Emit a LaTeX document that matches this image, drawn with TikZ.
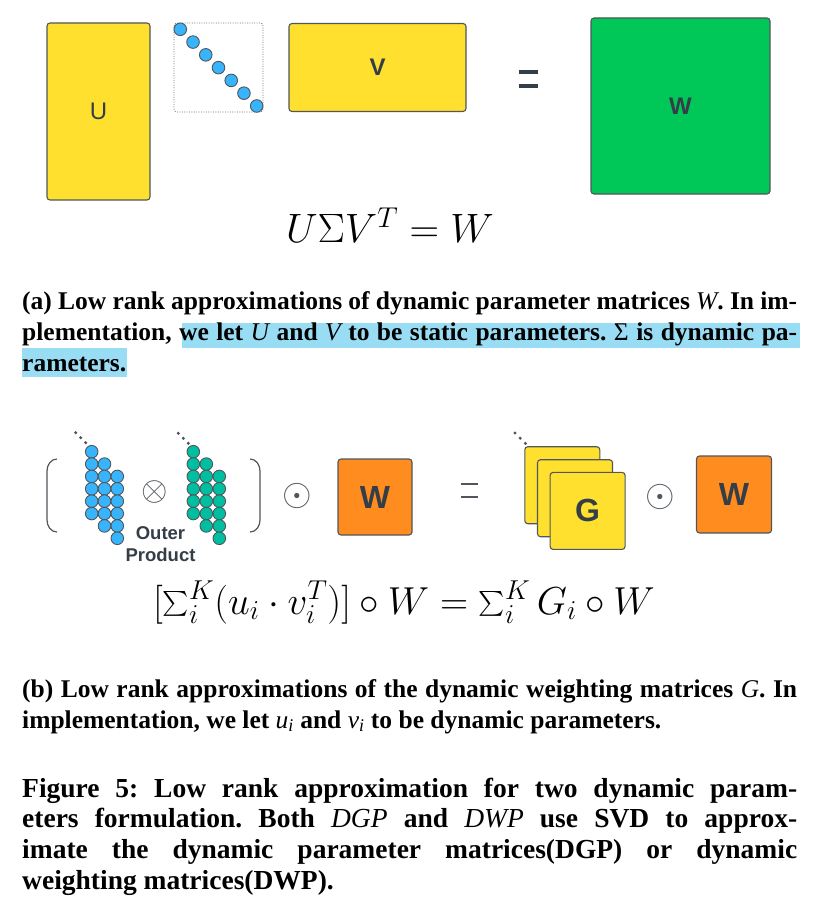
\documentclass[tikz,border=0pt]{standalone}
\usepackage{fix-cm}
\usepackage{amsmath}
\usepackage{fontspec}
\setmainfont{Liberation Serif}
\newfontfamily\labelfont{Liberation Sans}
\usepackage{tikz}
\usetikzlibrary{positioning, backgrounds}
\definecolor{colYel}{RGB}{255,224,46}
\definecolor{colGrn}{RGB}{0,200,88}
\definecolor{colOrg}{RGB}{255,140,30}
\definecolor{colBlue}{RGB}{56,180,252}
\definecolor{colTeal}{RGB}{0,190,160}
\definecolor{colEdge}{RGB}{80,86,92}
\definecolor{colText}{RGB}{52,62,72}
\definecolor{colMark}{RGB}{153,221,245}
\newcommand{\capvar}[1]{{\mdseries\itshape #1}}
\frenchspacing

\begin{document}
\begin{tikzpicture}[
  x=1pt, y=-1pt,
  mat/.style={rectangle, draw=colEdge, rounded corners=3pt, line width=1.1pt,
              inner sep=0pt, text=colText},
  ylw/.style={mat, fill=colYel},
  bdot/.style={circle, draw=colEdge, fill=colBlue, line width=0.9pt,
               minimum size=12.6pt, inner sep=0pt},
  gdot/.style={bdot, fill=colTeal},
  edot/.style={circle, fill=colEdge, minimum size=3.4pt, inner sep=0pt},
  opr/.style={inner sep=0pt, text=colEdge},
  capsub/.style={anchor=base west, inner sep=0pt, text width=775pt, align=justify,
                 font=\fontsize{25.5}{31}\selectfont\bfseries},
  capfig/.style={capsub, font=\fontsize{27.5}{30.7}\selectfont\bfseries},
]
\useasboundingbox (0,0) rectangle (812,904);

\node[ylw, minimum width=103pt, minimum height=177pt,
      font=\labelfont\fontsize{24}{24}\selectfont] (U) at (98.5,111.5) {U};
\node[mat, draw=colEdge!80, dash pattern=on 1pt off 1.4pt, line width=0.8pt,
      minimum width=89pt, minimum height=89pt] (S) at (218.5,67.5) {};
\foreach \k in {0,...,6}
  \node[bdot] (s\k) at ({180.3+12.73*\k},{29.3+12.78*\k}) {};
\node[ylw, minimum width=177pt, minimum height=88pt,
      font=\labelfont\bfseries\fontsize{24}{24}\selectfont] (V) at (377.5,67.5) {V};
\node (eqtop) at (528,79) {};
\draw[colText, line width=3.3pt] ([xshift=-9.5pt,yshift=7pt]eqtop.center) -- ([xshift=9.5pt,yshift=7pt]eqtop.center);
\draw[colText, line width=3.3pt] ([xshift=-9.5pt,yshift=-7pt]eqtop.center) -- ([xshift=9.5pt,yshift=-7pt]eqtop.center);
\node[mat, fill=colGrn, minimum width=179pt, minimum height=176pt,
      font=\labelfont\bfseries\fontsize{24}{24}\selectfont] (W) at (680.5,106) {W};

\node[font=\fontsize{41}{46}\selectfont, anchor=base] (eqa) at (390,242) {$U\Sigma V^{T} = W$};

\begin{scope}[on background layer]
  \fill[colMark] (182,323) rectangle (800,347.5);
  \fill[colMark] (22,347.5) rectangle (127,377);
\end{scope}
\node[capsub] (capa) at (22,309) {(a) Low rank approximations of dynamic parameter matrices \capvar{W}. In im-\linebreak
plementation, we let \capvar{U} and \capvar{V} to be static parameters. {\mdseries Σ} is dynamic pa-\linebreak
rameters.};

\draw[colEdge, line width=1.2pt] (57,459) to[out=180,in=90] (47,471) -- (47,520) to[out=-90,in=180] (57,532);
\draw[colEdge, line width=1.2pt] (250,459) to[out=0,in=90] (260,471) -- (260,520) to[out=-90,in=0] (250,532);
\foreach \c in {0,1,2}
  \foreach \r in {0,...,5}
    \node[bdot] (u\c\r) at ({91.7+12.8*\c},{451.7+12.37*(\r+\c)}) {};
\foreach \k in {0,1,2}
  \node[edot] (pu\k) at ({75.7+5*\k},{432.7+5*\k}) {};
\node[opr, font=\fontsize{34}{34}\selectfont] (otimes) at (155,491.7) {$\otimes$};
\node[font=\labelfont\bfseries\fontsize{18.5}{22}\selectfont, text=colText, align=center,
      inner sep=0pt] (outer) at (160.5,544) {Outer\\Product};
\foreach \c in {0,1,2}
  \foreach \r in {0,...,5}
    \node[gdot] (v\c\r) at ({193.3+13*\c},{451.7+12.37*(\r+\c)}) {};
\foreach \k in {0,1,2}
  \node[edot] (pv\k) at ({178.3+5*\k},{433.3+5*\k}) {};

\node[opr, font=\fontsize{38}{38}\selectfont] (odota) at (297,496) {$\odot$};
\node[mat, fill=colOrg, minimum width=74pt, minimum height=76pt,
      font=\labelfont\bfseries\fontsize{32}{32}\selectfont] (Wa) at (375,497) {W};
\node (eqmid) at (469,490.5) {};
\draw[colEdge, line width=1.3pt] ([xshift=-8.5pt,yshift=6.4pt]eqmid.center) -- ([xshift=8.5pt,yshift=6.4pt]eqmid.center);
\draw[colEdge, line width=1.3pt] ([xshift=-8.5pt,yshift=-6.4pt]eqmid.center) -- ([xshift=8.5pt,yshift=-6.4pt]eqmid.center);
\foreach \k in {0,1,2}
  \node[edot] (pg\k) at ({515+5.2*\k},{433+5.2*\k}) {};
\node[ylw, minimum width=75pt, minimum height=77pt] (G3) at (562.3,485.2) {};
\node[ylw, minimum width=75pt, minimum height=77pt] (G2) at (575,498.2) {};
\node[ylw, minimum width=75pt, minimum height=77pt,
      font=\labelfont\bfseries\fontsize{32}{32}\selectfont] (G1) at (587.6,510.9) {G};
\node[opr, font=\fontsize{38}{38}\selectfont] (odotb) at (660.5,496.8) {$\odot$};
\node[mat, fill=colOrg, minimum width=75pt, minimum height=77pt,
      font=\labelfont\bfseries\fontsize{32}{32}\selectfont] (Wb) at (734,494.5) {W};

\node[font=\fontsize{39}{44}\selectfont, anchor=base] (eqb) at (404,614)
  {$[\textstyle\sum_i^K (u_i\cdot v_i^{T})]\circ W = \sum_i^K G_i\circ W$};

\node[capsub] (capb) at (22,697) {(b) Low rank approximations of the dynamic weighting matrices \capvar{G}. In\linebreak
implementation, we let \capvar{u\textsubscript{i}} and \capvar{v\textsubscript{i}} to be dynamic parameters.};

\node[capfig] (capfig5) at (22,797) {Figure 5: Low rank approximation for two dynamic param-\linebreak
eters formulation. Both \capvar{DGP} and \capvar{DWP} use SVD to approx-\linebreak
imate the dynamic parameter matrices(DGP) or dynamic\linebreak
weighting matrices(DWP).};
\end{tikzpicture}
\end{document}
